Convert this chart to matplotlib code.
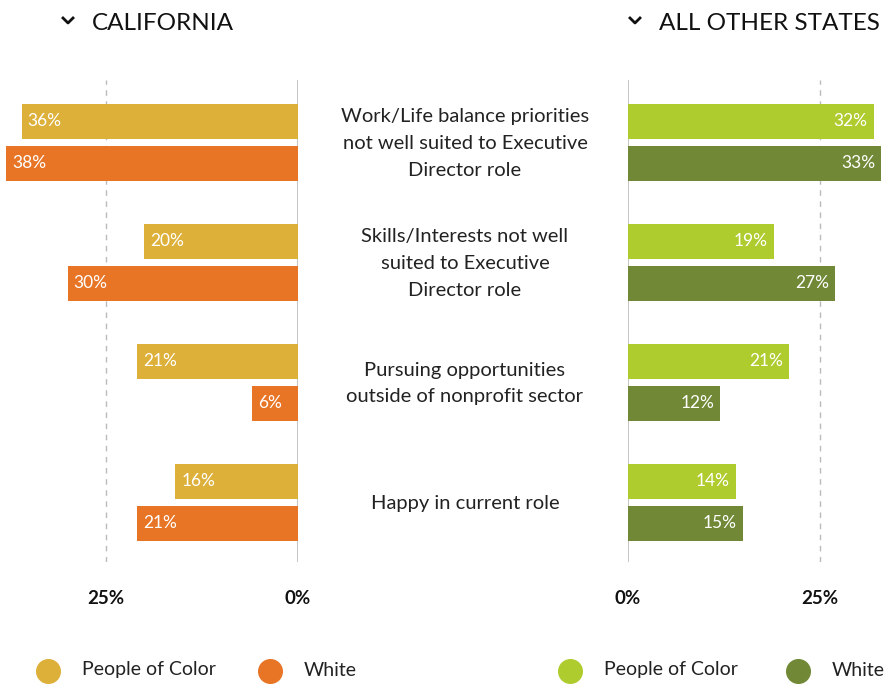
import matplotlib
matplotlib.use('Agg')
import matplotlib.pyplot as plt
from matplotlib.lines import Line2D

plt.rcParams['font.family'] = ['Lato', 'DejaVu Sans']

# datos
categorias = [
    'Work/Life balance priorities\nnot well suited to Executive\nDirector role',
    'Skills/Interests not well\nsuited to Executive\nDirector role',
    'Pursuing opportunities\noutside of nonprofit sector',
    'Happy in current role',
]
ca_poc = [36, 20, 21, 16]
ca_white = [38, 30, 6, 21]
otros_poc = [32, 19, 21, 14]
otros_white = [33, 27, 12, 15]

col_ca_poc = '#DDB03A'
col_ca_white = '#E87526'
col_ot_poc = '#AECC2E'
col_ot_white = '#718936'

W, H = 886, 686
fig = plt.figure(figsize=(W / 100, H / 100), dpi=100)

# 1% = 7.68 px
px = 192 / 25
y_top, y_bot = 80, 562
bar_h = 35 / 120
off = 21 / 120
ylim = (3 + 59.5 / 120, -62.5 / 120)


def fx(p):
    return p / W


def fy(p):
    return 1 - p / H


ax_l = fig.add_axes([0, fy(y_bot), fx(298), (y_bot - y_top) / H])
ax_r = fig.add_axes([fx(628), fy(y_bot), fx(W - 628), (y_bot - y_top) / H])

pos = list(range(len(categorias)))

for ax, poc, white, cp, cw, xmax, lado in [
        (ax_l, ca_poc, ca_white, col_ca_poc, col_ca_white, 298 / px, 'izq'),
        (ax_r, otros_poc, otros_white, col_ot_poc, col_ot_white, (W - 628) / px, 'der')]:
    ax.barh([p - off for p in pos], poc, height=bar_h, color=cp, zorder=2)
    ax.barh([p + off for p in pos], white, height=bar_h, color=cw, zorder=2)
    ax.axvline(0, color='#bbbbbb', lw=1.2, zorder=1)
    ax.axvline(25, color='#bbbbbb', lw=1, ls=(0, (4, 4)), zorder=1)
    if lado == 'izq':
        ax.set_xlim(xmax, 0)
    else:
        ax.set_xlim(0, xmax)
    ax.set_ylim(*ylim)
    ax.axis('off')
    for vals, d in [(poc, -off), (white, off)]:
        for p, v in zip(pos, vals):
            if lado == 'izq':
                ax.text(v - 0.8, p + d, f'{v}%', color='white', fontsize=12.5,
                        ha='left', va='center', zorder=3)
            else:
                ax.text(v - 0.8, p + d, f'{v}%', color='white', fontsize=12.5,
                        ha='right', va='center', zorder=3)

# etiquetas de categorias
for p, c in zip(pos, categorias):
    yc = 143.5 + 120 * p
    fig.text(fx(465), fy(yc), c, ha='center', va='center', fontsize=14.5,
             color='#222222', linespacing=1.68)

# ticks
for x, t in [(106, '25%'), (298, '0%'), (628, '0%'), (820, '25%')]:
    fig.text(fx(x), fy(599), t, ha='center', va='center', fontsize=13.5,
             fontweight='bold', color='#111111')

# titulos
for xc, xt, t in [(68, 92, 'CALIFORNIA'), (635, 659, 'ALL OTHER STATES')]:
    fig.text(fx(xt), fy(23), t, ha='left', va='center', fontsize=17.5,
             color='#111111')
    fig.add_artist(Line2D([fx(xc - 5), fx(xc), fx(xc + 5)],
                          [fy(18), fy(23), fy(18)], color='#111111', lw=2,
                          transform=fig.transFigure))

# leyendas
for x0, x1, c0, c1 in [(48, 270, col_ca_poc, col_ca_white),
                       (570, 798, col_ot_poc, col_ot_white)]:
    for xc, col, t in [(x0, c0, 'People of Color'), (x1, c1, 'White')]:
        fig.add_artist(Line2D([fx(xc)], [fy(671)], marker='o', markersize=17,
                              color=col, lw=0, transform=fig.transFigure))
        fig.text(fx(xc + 34), fy(670), t, ha='left', va='center',
                 fontsize=14, color='#222222')

fig.savefig('out.png', dpi=100)
